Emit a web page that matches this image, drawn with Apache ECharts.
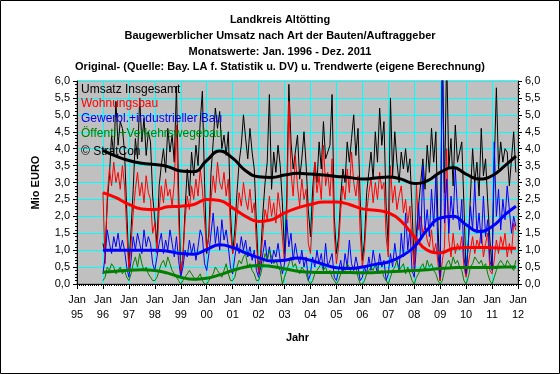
<!DOCTYPE html>
<html><head><meta charset="utf-8">
<script src="https://cdn.jsdelivr.net/npm/echarts@6/dist/echarts.min.js"></script>
<style>html,body{margin:0;padding:0;background:#fff}#c{width:560px;height:374px}</style>
</head><body><div id="c"></div>
<script>
// ---- DATA ----
const titleLines = ['Landkreis Altötting','Baugewerblicher Umsatz nach Art der Bauten/Auftraggeber','Monatswerte: Jan. 1996 - Dez. 2011','Original- (Quelle: Bay. LA f. Statistik u. DV) u. Trendwerte (eigene Berechnung)'];
const seriesNames = ['Umsatz Insgesamt','Wohnungsbau','Gewerbl.+industrieller Bau','Öffentl.+Verkehrswegebau'];
const xTickLabels = ['95','96','97','98','99','00','01','02','03','04','05','06','07','08','09','10','11','12'];
const startYear = 1996;
// monthly values Jan 1996 .. Dec 2011 (Mio EURO)
const insgesamt = [
1.2,0.9,2.4,3.2,4.4,3.8,5.4,4.1,4.8,4.6,3.9,2.2,
0.5,1.6,2.8,4.3,3.7,5.5,4.2,4.9,3.8,4.5,4.2,2.6,
1.9,1.2,2.9,3.5,4.0,3.3,4.6,3.9,4.4,3.6,5.85,2.8,
0.3,0.8,2.2,3.4,2.6,3.9,3.2,4.1,3.5,4.8,5.7,3.0,
0.9,1.5,3.3,4.2,5.2,4.6,5.1,4.0,4.4,3.8,4.5,2.1,
0.9,1.6,2.7,3.6,4.1,5.0,4.3,3.7,4.6,3.9,3.4,1.8,
0.3,0.9,2.1,3.0,3.6,5.6,2.8,3.9,3.3,4.1,3.5,2.4,
0.9,2.5,5.9,4.2,3.4,3.9,4.4,3.1,3.7,4.5,3.5,2.2,
1.4,2.8,3.6,3.0,4.2,3.4,4.8,3.7,3.9,4.1,5.6,2.0,
0.9,1.4,2.6,3.4,3.0,4.2,3.6,4.3,5.0,3.8,4.6,2.5,
0.7,1.3,2.7,3.3,3.9,3.1,4.5,3.6,5.2,4.1,4.8,2.3,
1.1,5.5,3.2,4.5,3.6,3.0,3.9,3.4,4.0,3.3,3.7,2.2,
0.6,1.5,2.3,3.0,3.7,2.8,4.1,3.3,4.6,3.6,4.5,1.7,
0.1,7.2,2.7,6.8,3.4,4.3,2.9,4.7,3.6,3.9,4.2,2.3,
0.3,1.2,2.6,4.0,3.0,3.6,2.6,4.6,3.2,3.7,2.4,1.3,
0.5,3.5,5.8,3.4,4.2,3.6,4.0,3.9,2.9,3.7,4.5,3.3];
const wohnungsbau = [
2.7,0.6,2.6,3.4,2.9,3.6,3.0,3.3,2.8,3.5,2.9,1.6,
0.4,1.2,2.1,2.8,3.3,2.6,3.0,2.4,3.2,2.7,2.5,1.5,
1.8,0.9,2.2,2.9,2.4,3.1,2.6,2.8,2.3,3.0,4.7,2.0,
0.3,0.8,1.9,2.6,2.2,2.9,2.5,3.1,2.6,3.4,2.8,1.9,
1.0,1.4,2.5,3.2,2.7,3.6,3.0,2.8,3.3,2.6,3.1,1.6,
0.9,1.2,2.0,2.7,2.3,3.0,2.5,2.2,2.8,2.1,2.4,1.2,
0.3,0.7,1.5,2.2,1.9,2.6,2.0,2.4,1.8,2.7,2.2,1.4,
0.6,1.8,5.4,3.3,2.6,3.8,2.9,2.3,3.1,2.5,2.8,1.2,
0.9,2.0,3.6,2.7,3.2,2.5,4.1,2.9,3.3,2.6,3.7,1.5,
0.6,1.1,2.2,2.9,2.5,3.4,2.7,3.9,3.0,2.6,3.2,1.5,
0.5,1.0,2.1,2.7,3.1,2.4,3.0,2.5,3.3,2.8,3.0,1.4,
0.8,3.5,2.4,2.9,2.2,2.6,2.9,2.1,2.5,1.8,2.3,1.2,
0.4,3.0,1.6,2.0,1.5,1.7,1.3,1.1,1.6,0.9,1.2,0.6,
0.1,0.7,1.1,4.0,1.3,0.8,1.5,0.9,1.2,1.0,1.4,0.5,
0.2,0.6,1.0,1.4,0.9,1.3,1.1,1.6,0.8,1.2,1.5,0.4,
0.3,0.7,1.3,0.9,1.4,1.1,1.5,0.8,1.2,0.9,1.8,1.6];
const gewerbl = [
0.3,0.8,1.6,1.2,0.9,1.4,1.1,1.5,1.0,1.3,1.0,0.5,
0.2,0.7,1.4,1.0,1.5,1.2,0.9,1.6,1.1,1.4,1.2,0.6,
0.4,0.8,1.2,1.5,0.9,1.3,1.0,1.6,1.2,0.8,1.4,0.7,
0.2,0.5,1.0,0.8,1.3,0.9,1.2,0.7,1.1,1.6,1.4,0.6,
0.4,0.9,1.5,2.1,1.2,1.7,1.0,1.9,1.3,1.6,1.1,0.5,
0.3,0.8,1.2,0.9,1.4,1.0,1.3,0.8,1.1,0.7,1.0,0.4,
0.2,0.5,0.9,1.3,0.7,1.1,0.6,1.0,0.8,1.2,0.7,0.3,
0.6,1.9,1.1,1.5,0.7,1.2,0.8,0.6,1.0,0.5,0.8,0.1,
0.3,0.8,0.5,1.0,0.6,0.9,0.4,1.2,0.5,0.7,0.9,0.2,
0.1,0.4,0.7,0.3,0.9,0.5,1.3,0.6,0.4,0.8,0.5,0.1,
0.2,0.5,0.3,0.8,0.4,1.0,0.6,0.3,0.9,0.5,0.7,0.1,
0.3,0.9,0.5,1.2,0.7,0.4,1.5,0.8,2.1,1.0,1.6,0.4,
0.2,1.1,2.4,1.3,3.5,1.6,2.2,1.4,2.8,1.7,3.2,0.9,
0.2,7.0,1.8,3.1,1.5,2.6,1.9,3.4,2.2,1.6,2.5,0.8,
0.3,1.2,2.3,1.6,3.0,1.5,2.1,1.2,2.6,1.4,1.9,0.7,
0.4,4.2,2.0,2.8,1.6,2.5,1.9,2.9,2.2,1.5,2.0,1.7];
const oeffentl = [
0.1,0.2,0.5,0.4,0.6,0.5,0.3,0.4,0.5,0.3,0.4,0.2,
0.1,0.3,0.6,0.8,0.5,0.9,0.6,0.4,0.5,0.3,0.2,0.1,
0.1,0.2,0.4,0.6,0.7,0.5,0.8,0.6,0.4,0.3,0.2,0.1,
0.0,0.1,0.2,0.3,0.4,0.3,0.2,0.1,0.2,0.3,0.1,0.0,
0.0,0.1,0.2,0.3,0.5,0.4,0.3,0.2,0.4,0.6,0.3,0.1,
0.1,0.2,0.5,0.7,0.6,0.8,0.9,0.5,0.6,0.4,0.3,0.1,
0.1,0.3,0.6,0.9,0.7,1.0,0.8,0.6,0.7,0.5,0.4,0.0,
0.2,0.4,0.6,0.8,0.5,0.6,0.4,0.3,0.5,0.4,0.3,0.1,
0.0,0.1,0.3,0.4,0.5,0.6,0.4,0.5,0.3,0.4,0.2,0.1,
0.0,0.1,0.3,0.5,0.4,0.6,0.5,0.3,0.4,0.5,0.2,0.0,
0.0,0.1,0.3,0.4,0.5,0.4,0.6,0.5,0.3,0.4,0.2,0.1,
0.0,0.2,0.4,0.5,0.7,0.4,0.5,0.6,0.3,0.5,0.3,0.1,
0.0,0.2,0.3,0.5,0.6,0.4,0.7,0.5,0.6,0.4,0.3,0.1,
0.0,0.1,0.4,0.6,0.7,0.5,0.8,0.6,0.7,0.5,0.4,0.1,
0.0,0.2,0.5,0.6,0.8,0.7,0.6,0.7,0.5,0.6,0.3,0.1,
0.0,0.2,0.4,0.6,0.7,0.6,0.5,0.7,0.6,0.5,0.4,0.7];
// trend values at half-year points
const trendYears = [1996,1996.5,1997,1997.5,1998,1998.5,1999,1999.5,2000,2000.5,2001,2001.5,2002,2002.5,2003,2003.5,2004,2004.5,2005,2005.5,2006,2006.5,2007,2007.5,2008,2008.5,2009,2009.5,2010,2010.5,2011,2011.5,2011.92];
const trendInsgesamt = [3.95,3.78,3.65,3.57,3.53,3.47,3.34,3.32,3.65,3.93,3.72,3.35,3.17,3.15,3.22,3.27,3.25,3.22,3.18,3.15,3.10,3.13,3.16,3.10,2.97,3.05,3.30,3.44,3.25,3.10,3.20,3.50,3.78];
const trendWohnungsbau = [2.70,2.55,2.35,2.22,2.20,2.28,2.30,2.35,2.50,2.47,2.25,2.00,1.85,1.90,2.10,2.25,2.35,2.42,2.42,2.35,2.22,2.18,2.10,1.85,1.40,1.00,0.92,1.05,1.08,1.08,1.07,1.06,1.06];
const trendGewerbl = [1.00,1.00,1.00,1.00,1.00,0.97,0.90,0.88,1.02,1.16,1.08,0.92,0.78,0.68,0.70,0.77,0.70,0.58,0.48,0.46,0.50,0.58,0.65,0.82,1.10,1.60,1.95,2.00,1.75,1.55,1.70,2.05,2.30];
const trendOeffentl = [0.35,0.38,0.41,0.42,0.40,0.32,0.20,0.14,0.17,0.27,0.40,0.50,0.55,0.52,0.45,0.38,0.35,0.34,0.34,0.34,0.33,0.34,0.36,0.38,0.40,0.42,0.46,0.48,0.49,0.49,0.49,0.50,0.50];
const colors = ['#000000','#FF0000','#0000FF','#008000'];

// ---- CHART ----
const FONT = '"Liberation Sans", Arial, sans-serif';
const monthly = arr => arr.map((v,i)=>[startYear + i/12, v]);
const trend = arr => arr.map((v,i)=>[trendYears[i], v]);
const raw = [insgesamt, wohnungsbau, gewerbl, oeffentl];
const trends = [trendInsgesamt, trendWohnungsbau, trendGewerbl, trendOeffentl];
const series = [];
raw.forEach((arr,k)=>series.push({type:'line', name:seriesNames[k], data:monthly(arr), symbol:'none', lineStyle:{color:colors[k], width:1}, clip:true, z:2}));
trends.forEach((arr,k)=>series.push({type:'line', name:seriesNames[k]+' Trend', data:trend(arr), symbol:'none', smooth:0.5, lineStyle:{color:colors[k], width:3}, clip:true, z:3}));

const yFmt = v => v.toFixed(1).replace('.', ',');
const yAxisBase = {type:'value', min:0, max:6, interval:0.5,
  axisLine:{show:true, lineStyle:{color:'#000', width:1}},
  axisTick:{show:true, length:4, lineStyle:{color:'#000'}},
  minorTick:{show:true, splitNumber:5, length:2, lineStyle:{color:'#000'}},
  axisLabel:{formatter:yFmt, color:'#000', fontFamily:FONT, fontSize:11, margin:7}};

const graphics = [
  {type:'rect', shape:{x:0.5,y:0.5,width:559,height:373}, style:{fill:null, stroke:'#000', lineWidth:1}, z:100}
];
const titleY = [20,36,52,67];
titleLines.forEach((t,i)=>graphics.push({type:'text', x:280, y:titleY[i], style:{text:t, fill:'#000', font:'bold 11px '+FONT, textAlign:'center', textVerticalAlign:'middle'}, z:100}));
const legY = [90,104,119,134];
seriesNames.forEach((t,i)=>graphics.push({type:'text', x:81, y:legY[i], style:{text:t, fill:colors[i], font:'12px '+FONT, textAlign:'left', textVerticalAlign:'middle'}, z:100}));
graphics.push({type:'text', x:81, y:152, style:{text:'© StratCon', fill:'#000', font:'12px '+FONT, textAlign:'left', textVerticalAlign:'middle'}, z:100});

const chart = echarts.init(document.getElementById('c'), null, {renderer:'canvas'});
chart.setOption({
  animation:false,
  backgroundColor:'#fff',
  grid:{left:77, right:42, top:81, bottom:90, show:true, backgroundColor:'#C0C0C0', borderColor:'#808080', borderWidth:1},
  xAxis:{type:'value', min:1995, max:2012, interval:1,
    name:'Jahr', nameLocation:'middle', nameGap:48, nameTextStyle:{fontFamily:FONT, fontWeight:'bold', fontSize:11, color:'#000'},
    axisLine:{show:true, onZero:false, lineStyle:{color:'#000'}},
    axisTick:{show:true, length:5, lineStyle:{color:'#000'}},
    minorTick:{show:true, splitNumber:12, length:2, lineStyle:{color:'#000'}},
    splitLine:{show:true, lineStyle:{color:'#00FFFF', width:1}},
    axisLabel:{color:'#000', fontFamily:FONT, fontSize:11, lineHeight:15, margin:8,
      formatter: v => 'Jan\n' + xTickLabels[Math.round(v - 1995)]}},
  yAxis:[
    Object.assign({}, yAxisBase, {position:'left', name:'Mio EURO', nameLocation:'middle', nameGap:36,
      nameTextStyle:{fontFamily:FONT, fontWeight:'bold', fontSize:11, color:'#000'},
      splitLine:{show:true, lineStyle:{color:'#00FFFF', width:1}}}),
    Object.assign({}, yAxisBase, {position:'right', splitLine:{show:false}})
  ],
  series: series,
  graphic: graphics
});
</script>
</body></html>
